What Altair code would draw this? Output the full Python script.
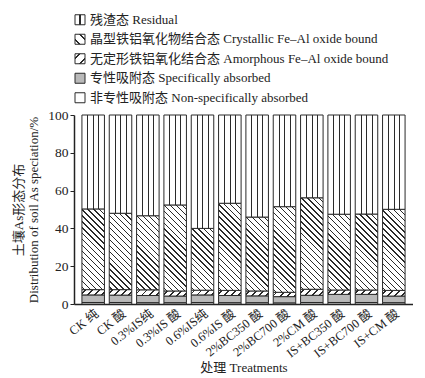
import math
import altair as alt
import pandas as pd

# ---------------- data ----------------
treatments = ["CK 纯", "CK 酸", "0.3%IS纯", "0.3%IS 酸", "0.6%IS纯", "0.6%IS 酸",
              "2%BC350 酸", "2%BC700 酸", "2%CM 酸", "IS+BC350 酸", "IS+BC700 酸", "IS+CM 酸"]
nonspecific = [0.8, 0.8, 0.7, 0.7, 0.8, 0.7, 0.7, 0.6, 0.8, 0.8, 0.8, 0.7]
specific = [4.0, 3.9, 3.8, 3.5, 4.0, 3.8, 3.6, 3.3, 3.8, 4.3, 4.3, 3.5]
amorphous = [2.8, 2.9, 3.0, 2.7, 2.5, 2.7, 2.6, 2.3, 3.2, 2.3, 2.3, 3.0]
crystalline = [42.7, 40.4, 39.2, 45.5, 32.7, 46.1, 39.1, 45.3, 48.4, 40.1, 40.2, 42.9]
residual = [49.7, 52.0, 53.3, 47.6, 60.0, 46.7, 54.0, 48.5, 43.8, 52.5, 52.4, 49.9]

fraction_keys = ["non", "spe", "amo", "cry", "res"]  # bottom -> top
legend_keys = ["res", "cry", "amo", "spe", "non"]      # top -> bottom
legend_labels = ["残渣态 Residual",
                 "晶型铁铝氧化物结合态 Crystallic Fe–Al oxide bound",
                 "无定形铁铝氧化结合态 Amorphous Fe–Al oxide bound",
                 "专性吸附态 Specifically absorbed",
                 "非专性吸附态 Non-specifically absorbed"]

series = {"non": nonspecific, "spe": specific, "amo": amorphous,
          "cry": crystalline, "res": residual}

rows = []
for i, t in enumerate(treatments):
    for k, key in enumerate(fraction_keys):
        rows.append({"treatment": t, "i": i, "frac": key, "ord": k,
                     "value": series[key][i]})
df = pd.DataFrame(rows)
legend_df = pd.DataFrame({"key": legend_keys, "label": legend_labels})

# ---------------- geometry / styles ----------------
W, H = 339, 189
P_IN, P_OUT = 0.176, 0.29
step = W / (len(treatments) - P_IN + 2 * P_OUT)
BW = step * (1 - P_IN)
FONT = "Liberation Serif, Noto Sans CJK SC"
DARK = "#2a2a2a"
LIGHT = "#ffffff"
GRAY = "#b9b9b9"


def stops_for(positions, half):
    st = [{"offset": 0, "color": LIGHT}]
    for c in positions:
        a = max(0.0, c - half)
        b = min(1.0, c + half)
        st += [{"offset": round(a, 4), "color": LIGHT},
               {"offset": round(a, 4), "color": DARK},
               {"offset": round(b, 4), "color": DARK},
               {"offset": round(b, 4), "color": LIGHT}]
    st.append({"offset": 1, "color": LIGHT})
    return st


def vertical_grad(positions, half):
    return {"gradient": "linear", "x1": 0, "y1": 0, "x2": 1, "y2": 0,
            "stops": stops_for(positions, half)}


def diag_grad(w, h, period, lw, kind):
    r = h / w
    s = (1 + r) / (1 + r * r)
    if kind == "back":   # lines like "\"
        x1, y1, x2, y2 = 0, 1, s, 1 - s * r
    else:                # lines like "/"
        x1, y1, x2, y2 = 0, 0, s, s * r
    span = (w + h) / math.sqrt(2)
    pos = []
    k = 0
    while (k + 0.5) * period / span < 1:
        pos.append((k + 0.5) * period / span)
        k += 1
    return {"gradient": "linear", "x1": round(x1, 4), "y1": round(y1, 4),
            "x2": round(x2, 4), "y2": round(y2, 4),
            "stops": stops_for(pos, lw / 2 / span)}


conds = [{"test": "datum.frac === 'res'",
          "value": vertical_grad([0.26, 0.51, 0.75], 0.5 / BW)},
         {"test": "datum.frac === 'spe'", "value": GRAY}]
for i in range(len(treatments)):
    hc = crystalline[i] / 100 * H
    ha = amorphous[i] / 100 * H
    conds.append({"test": f"datum.frac === 'cry' && datum.i === {i}",
                  "value": diag_grad(BW, hc, 4.2, 1.0, "back")})
    conds.append({"test": f"datum.frac === 'amo' && datum.i === {i}",
                  "value": diag_grad(BW, ha, 5.0, 1.3, "fwd")})

leg_conds = [{"test": "datum.key === 'res'", "value": vertical_grad([0.5], 0.06)},
             {"test": "datum.key === 'cry'", "value": diag_grad(10, 10, 7.07, 1.2, "back")},
             {"test": "datum.key === 'amo'", "value": diag_grad(10, 10, 7.07, 1.6, "fwd")},
             {"test": "datum.key === 'spe'", "value": GRAY}]

# ---------------- legend ----------------
LX = 1
lbase = alt.Chart(legend_df).encode(
    y=alt.Y("label:N", sort=legend_labels, axis=None,
            scale=alt.Scale(paddingInner=0, paddingOuter=0)))
boxes = lbase.mark_square(size=100, stroke=DARK, strokeWidth=1, opacity=1).encode(
    x=alt.value(LX + 5),
    fill=alt.FillValue("white", condition=leg_conds))
texts = lbase.mark_text(align="left", baseline="middle", fontSize=13,
                        font=FONT, color="#222").encode(
    x=alt.value(LX + 15), text="label:N")
legend = (boxes + texts).properties(width=W, height=97.5)

# ---------------- main chart ----------------
bars = alt.Chart(df).mark_bar(stroke=DARK, strokeWidth=1).encode(
    x=alt.X("treatment:N", sort=treatments,
            scale=alt.Scale(paddingInner=P_IN, paddingOuter=P_OUT),
            axis=alt.Axis(title="处理 Treatments", labelAngle=-38, ticks=False,
                          labelFontSize=12.5, labelPadding=3,
                          titleY=57, titleBaseline="top", domainWidth=1.5)),
    y=alt.Y("value:Q", stack="zero",
            scale=alt.Scale(domain=[0, 100], nice=False),
            axis=alt.Axis(values=[0, 20, 40, 60, 80, 100], grid=False,
                          title=["土壤As形态分布", "Distribution of soil As speciation/%"],
                          titleLineHeight=15, titlePadding=7, tickSize=4,
                          labelPadding=2, domainWidth=1.5)),
    order=alt.Order("ord:Q"),
    fill=alt.FillValue("white", condition=conds),
).properties(width=W, height=H)

chart = alt.vconcat(legend, bars, spacing=0).properties(
    padding={"left": 4, "top": 2, "right": 0, "bottom": 2}
).configure_view(stroke=None).configure_axis(
    labelFont=FONT, titleFont=FONT, labelFontSize=13.5, titleFontSize=13,
    titleFontWeight="normal", labelColor="#222", titleColor="#222",
    domainColor="#222", tickColor="#222"
)

chart.save("out.html", embed_options={"renderer": "svg", "actions": False})
